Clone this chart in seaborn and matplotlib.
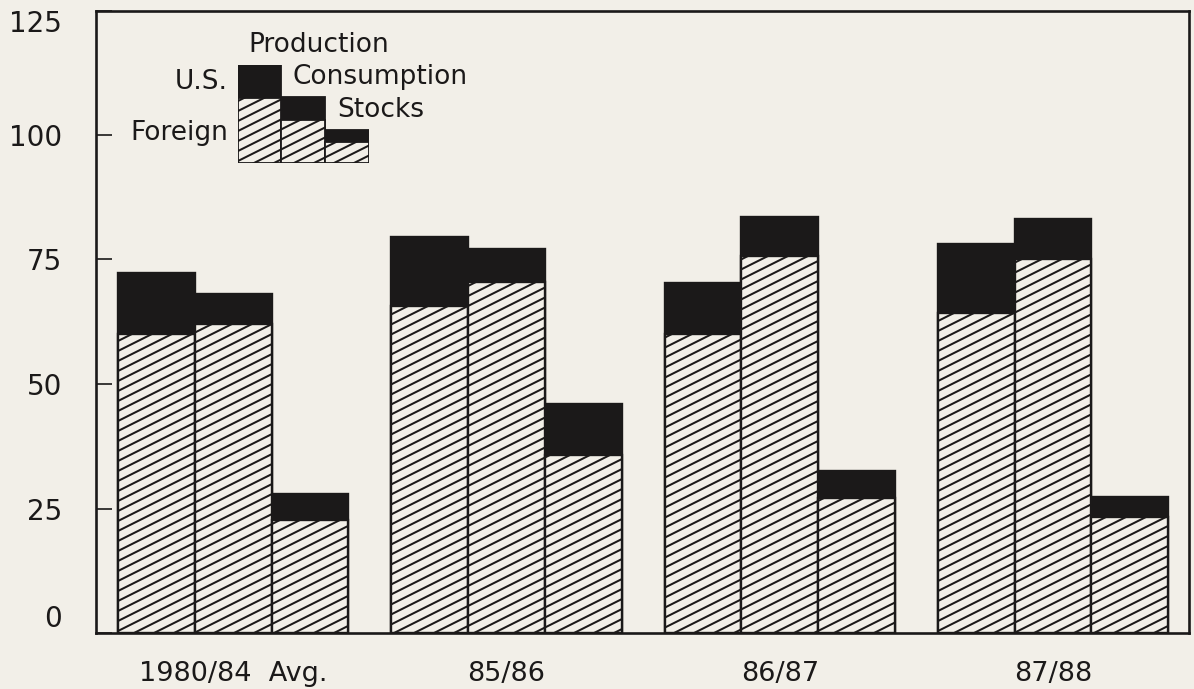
import numpy as np
import pandas as pd
import matplotlib
matplotlib.use('Agg')
import matplotlib.pyplot as plt
import matplotlib.hatch as mhatch
from matplotlib.path import Path
import seaborn as sns

# ---- data ----
groups = ['1980/84  Avg.', '85/86', '86/87', '87/88']
components = ['Production', 'Consumption', 'Stocks']
total = [[72.2, 68.1, 27.9],
         [79.5, 77.1, 46.0],
         [70.2, 83.5, 32.5],
         [78.1, 83.2, 27.4]]
foreign = [[60.0, 62.1, 22.7],
           [65.7, 70.4, 35.8],
           [60.1, 75.7, 27.1],
           [64.2, 75.1, 23.3]]
yticks = [0, 25, 50, 75, 100, 125]
# legend key sample bars (relative heights)
legend_total = [1.0, 0.671, 0.339]
legend_foreign = [0.661, 0.441, 0.220]

# ---- style ----
BG = '#f2efe8'
INK = '#1b1919'
GROUP_STEP = 3.56
W, H = 1194, 689


# shallow (~27 deg) diagonal hatch replacing the 45 deg '/' pattern
class ShallowHatch(mhatch.HatchPatternBase):
    def __init__(self, hatch, density):
        self.n = 10 if hatch.count('/') else 0
        self.num_vertices = (int(1.5 * self.n) + 1) * 2 if self.n else 0

    def set_vertices_and_codes(self, vertices, codes):
        k = int(1.5 * self.n) + 1
        cs = -0.5 + np.arange(k) / self.n
        vertices[0::2, 0] = -0.02
        vertices[0::2, 1] = cs - 0.01
        vertices[1::2, 0] = 1.02
        vertices[1::2, 1] = cs + 0.51
        codes[0::2] = Path.MOVETO
        codes[1::2] = Path.LINETO


mhatch._hatch_types = [ShallowHatch if t is mhatch.NorthEastHatch else t
                       for t in mhatch._hatch_types]

sns.set_theme(style='white')
plt.rcParams['font.family'] = ['DejaVu Sans']
plt.rcParams['hatch.linewidth'] = 1.45
plt.rcParams['hatch.color'] = INK

rows = []
for g, name in enumerate(groups):
    for i, comp in enumerate(components):
        rows.append(dict(pos=g * GROUP_STEP + i, group=name, comp=comp,
                         total=total[g][i], foreign=foreign[g][i]))
df = pd.DataFrame(rows)

fig = plt.figure(figsize=(W / 100, H / 100), dpi=100, facecolor=BG)
ax = fig.add_axes([96 / W, 1 - 633 / H, (1189 - 96) / W, (633 - 10.5) / H])
ax.set_facecolor(BG)


def stacked(axis, data, xcol, tcol, fcol, lw):
    sns.barplot(data=data, x=xcol, y=tcol, native_scale=True, width=1.0,
                color=INK, saturation=1, errorbar=None, ax=axis)
    n0 = len(axis.patches)
    for p in axis.patches[:n0]:
        p.set_edgecolor(INK)
        p.set_linewidth(lw)
    sns.barplot(data=data, x=xcol, y=fcol, native_scale=True, width=1.0,
                color=BG, saturation=1, errorbar=None, ax=axis)
    for p in axis.patches[n0:]:
        p.set_facecolor(BG)
        p.set_edgecolor(INK)
        p.set_linewidth(lw)
        p.set_hatch('/')


stacked(ax, df, 'pos', 'total', 'foreign', 1.7)

last = (len(groups) - 1) * GROUP_STEP + 2
ax.set_xlim(-0.5 - 0.286, last + 0.5 + 0.27)
ax.set_ylim(0, 125)

for s in ax.spines.values():
    s.set_visible(True)
    s.set_linewidth(1.9)
    s.set_color(INK)

ax.set_yticks(yticks, labels=[str(v) for v in yticks])
ax.tick_params(axis='y', direction='in', length=11.5, width=1.2, pad=24.5,
               labelsize=20, colors=INK, left=True)
ax.set_xticks([g * GROUP_STEP + 1 for g in range(len(groups))], labels=groups)
ax.tick_params(axis='x', length=0, pad=20, labelsize=19.5, colors=INK)
ax.set_xlabel('')
ax.set_ylabel('')
yt = ax.yaxis.get_major_ticks()
yt[-1].label1.set_va('top')
yt[0].label1.set_va('bottom')

# ---- legend key as a small inset chart ----
leg_df = pd.DataFrame({'pos': [0, 1, 2], 'comp': components,
                       'total': legend_total, 'foreign': legend_foreign})
lax = fig.add_axes([237.7 / W, 1 - 163.3 / H, (369 - 237.7) / W, (163.3 - 65) / H])
lax.patch.set_alpha(0)
stacked(lax, leg_df, 'pos', 'total', 'foreign', 1.3)
lax.set_xlim(-0.5, 2.5)
lax.set_ylim(0, 1)
lax.axis('off')

fs = 19
fig.text(248 / W, 1 - 45 / H, 'Production', ha='left', va='center', fontsize=fs, color=INK)
fig.text(228 / W, 1 - 82 / H, 'U.S.', ha='right', va='center', fontsize=fs, color=INK)
fig.text(293 / W, 1 - 77 / H, 'Consumption', ha='left', va='center', fontsize=fs, color=INK)
fig.text(337 / W, 1 - 110 / H, 'Stocks', ha='left', va='center', fontsize=fs, color=INK)
fig.text(228 / W, 1 - 133 / H, 'Foreign', ha='right', va='center', fontsize=fs, color=INK)

fig.savefig('out.png', dpi=100, facecolor=BG)
